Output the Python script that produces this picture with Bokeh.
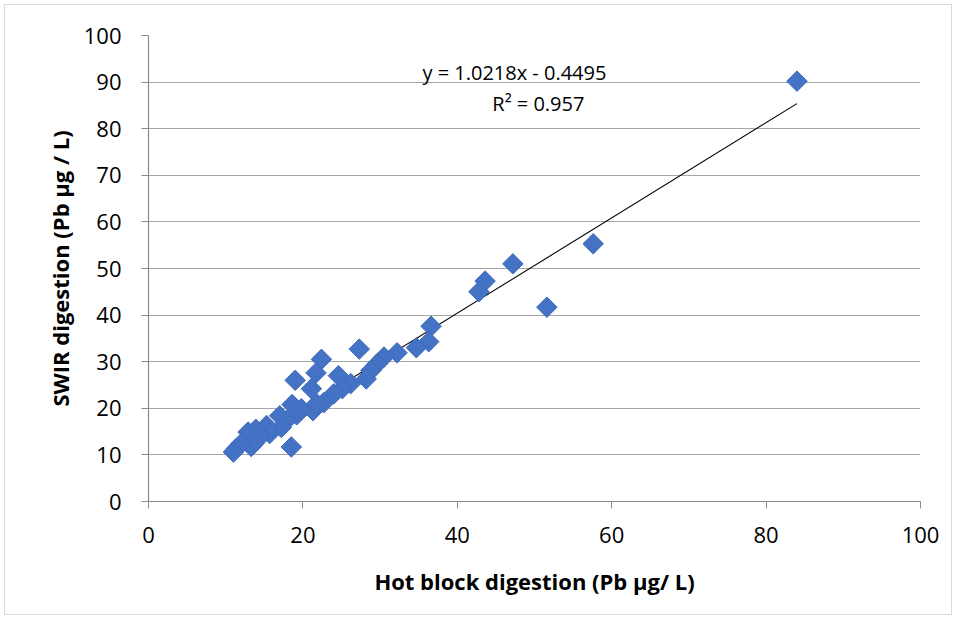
import math
from bokeh.plotting import figure
from bokeh.models import Label, FixedTicker, Range1d
from bokeh.embed import file_html
from bokeh.resources import INLINE

hot = [84.0, 57.6, 51.6, 47.2, 43.6, 42.8, 36.6, 36.3, 34.7, 32.2, 30.5, 29.6, 28.8, 28.2,
       27.3, 26.2, 25.1, 24.6, 24.0, 22.7, 22.4, 21.7, 21.1, 21.3, 21.8, 19.0, 18.6, 19.2,
       19.8, 18.5, 17.9, 17.0, 17.2, 15.3, 15.7, 14.5, 13.9, 12.9, 13.6, 13.3, 12.0, 11.4, 11.0]
swir = [90.2, 55.3, 41.7, 51.0, 47.3, 45.0, 37.6, 34.3, 33.0, 31.9, 31.0, 29.5, 28.1, 26.3,
        32.7, 25.3, 24.2, 27.0, 23.1, 21.2, 30.5, 27.6, 24.2, 19.5, 21.0, 26.0, 20.8, 18.6,
        19.9, 11.7, 17.4, 18.4, 15.9, 16.3, 14.6, 13.9, 15.5, 14.9, 12.4, 11.8, 12.4, 11.4, 10.6]
slope = 1.0218
intercept = -0.4495
eq_text = "y = 1.0218x - 0.4495"
r2_text = "R² = 0.957"
x_ticks = [0, 20, 40, 60, 80, 100]
y_ticks = [0, 10, 20, 30, 40, 50, 60, 70, 80, 90, 100]
x_title = "Hot block digestion (Pb µg/ L)"
y_title = "SWIR digestion (Pb µg / L)"

FONT = "Open Sans"

p = figure(width=948, height=611, output_backend="svg", toolbar_location=None,
           x_range=Range1d(0, 100), y_range=Range1d(0, 100),
           min_border_left=143, min_border_right=33, min_border_top=30, min_border_bottom=115)
p.styles = {"border": "1px solid #d9d9d9", "margin": "4px 0 0 4px"}
p.outline_line_color = None
p.background_fill_color = "white"
p.border_fill_color = "white"

p.xgrid.grid_line_color = None
p.ygrid.grid_line_color = "#a6a6a6"
p.ygrid.grid_line_width = 1.2

for ax in (p.xaxis[0], p.yaxis[0]):
    ax.axis_line_color = "#8c8c8c"
    ax.axis_line_width = 1.2
    ax.major_tick_line_color = "#8c8c8c"
    ax.major_tick_out = 7
    ax.major_tick_in = 0
    ax.minor_tick_line_color = None
    ax.major_label_text_font = FONT
    ax.major_label_text_font_size = "22px"
    ax.major_label_text_color = "#000000"
    ax.axis_label_text_font = FONT
    ax.axis_label_text_font_size = "22px"
    ax.axis_label_text_font_style = "bold"
    ax.axis_label_text_color = "#000000"

p.xaxis.ticker = FixedTicker(ticks=x_ticks)
p.yaxis.ticker = FixedTicker(ticks=y_ticks)
p.xaxis.major_label_standoff = 18
p.yaxis.major_label_standoff = 20
p.xaxis.axis_label = x_title
p.yaxis.axis_label = y_title
p.xaxis.axis_label_standoff = 20
p.yaxis.axis_label_standoff = 6

# trendline
x0, x1 = min(hot), max(hot)
p.line([x0, x1], [slope * x0 + intercept, slope * x1 + intercept],
       line_color="black", line_width=1.1)

p.scatter(hot, swir, marker="square", angle=math.pi / 4, size=14.5,
          fill_color="#4472C4", line_color="#3f6bbb", line_width=1)

p.add_layout(Label(x=47.4, y=92.0, text=eq_text, text_align="center",
                   text_baseline="middle", text_font=FONT, text_font_size="20px",
                   text_color="black"))
p.add_layout(Label(x=50.5, y=85.5, text=r2_text, text_align="center",
                   text_baseline="middle", text_font=FONT, text_font_size="20px",
                   text_color="black"))

open("out.html", "w").write(file_html(p, INLINE))
